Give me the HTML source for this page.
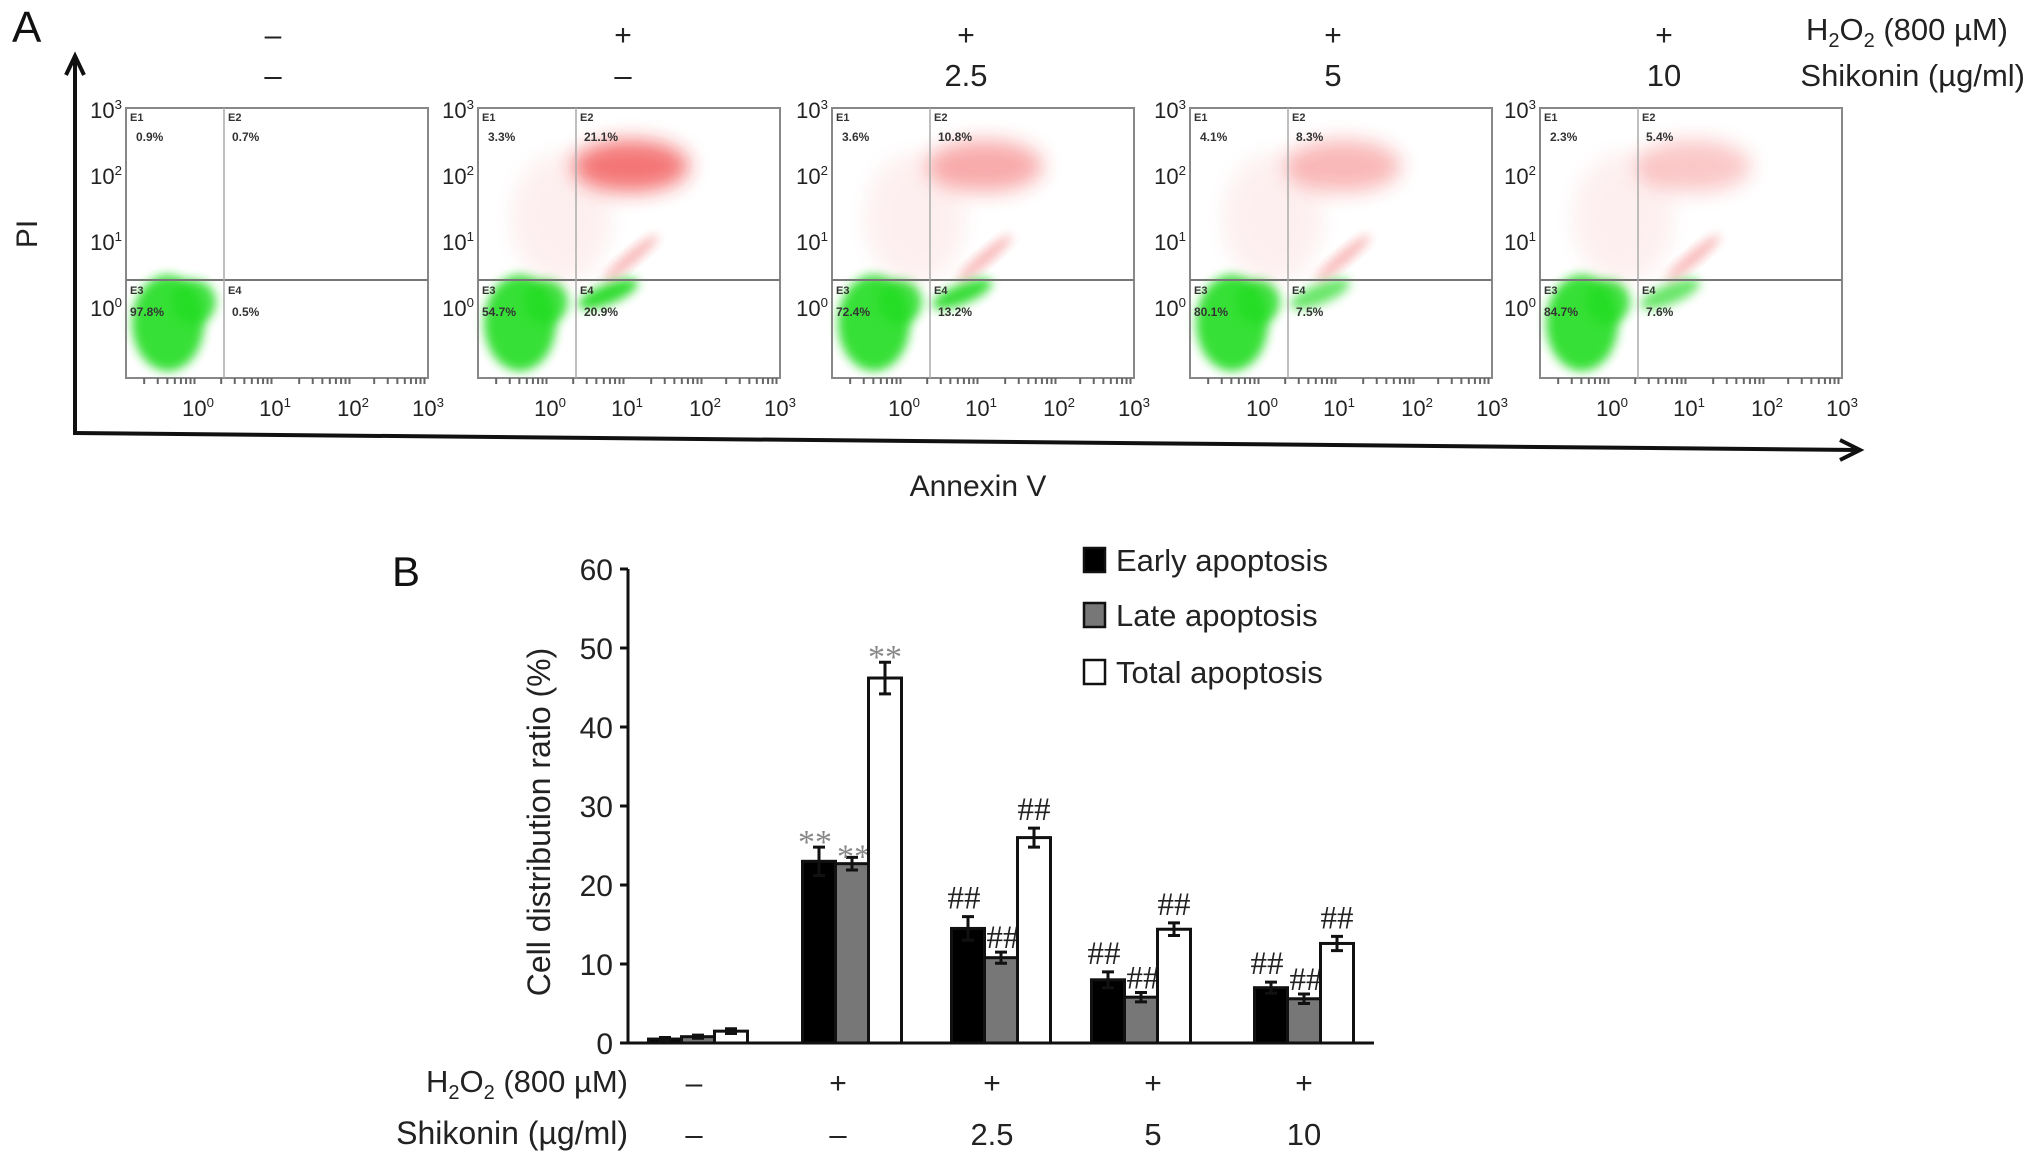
<!DOCTYPE html>
<html><head><meta charset="utf-8">
<style>
html,body{margin:0;padding:0;background:#fff;}
svg{display:block;font-family:"Liberation Sans Narrow","Liberation Sans",sans-serif;}
</style></head>
<body>
<svg id="fig" width="2032" height="1161" viewBox="0 0 2032 1161" xmlns="http://www.w3.org/2000/svg">
<defs>
<filter id="blur4" x="-50%" y="-50%" width="200%" height="200%"><feGaussianBlur stdDeviation="5"/></filter>
<filter id="blur8" x="-50%" y="-50%" width="200%" height="200%"><feGaussianBlur stdDeviation="10"/></filter>
</defs>
<g id="panelA"></g>
<g id="panelB"></g>
</svg>
<script>
const NS="http://www.w3.org/2000/svg";
// ---- Panel A data ----
const aH2O2=["–","+","+","+","+"];
const aShik=["–","–","2.5","5","10"];
const qE1=["0.9%","3.3%","3.6%","4.1%","2.3%"];
const qE2=["0.7%","21.1%","10.8%","8.3%","5.4%"];
const qE3=["97.8%","54.7%","72.4%","80.1%","84.7%"];
const qE4=["0.5%","20.9%","13.2%","7.5%","7.6%"];
const lateVals=[0.7,21.1,10.8,8.3,5.4];
// ---- Panel B data ----
const groupsH2O2=["–","+","+","+","+"];
const groupsShik=["–","–","2.5","5","10"];
const earlyVals=[0.5,23.0,14.5,8.0,7.0];
const earlyErr=[0.2,1.8,1.5,1.0,0.7];
const lateApVals=[0.8,22.7,10.8,5.8,5.6];
const lateApErr=[0.2,0.8,0.7,0.6,0.6];
const totalVals=[1.5,46.2,26.0,14.4,12.6];
const totalErr=[0.3,2.0,1.2,0.8,0.9];
const yTicks=[0,10,20,30,40,50,60];
const earlyMark=["","**","##","##","##"];
const lateMark=["","**","##","##","##"];
const totalMark=["","**","##","##","##"];

function el(parent,tag,attrs,text){const e=document.createElementNS(NS,tag);for(const k in attrs)e.setAttribute(k,attrs[k]);if(text!==undefined)e.textContent=text;parent.appendChild(e);return e;}
function sup(parent,x,y,base,exp,size,name){
  const t=el(parent,"text",{x:x,y:y,"font-size":size,"text-anchor":"middle",fill:"#222"});
  
  
  const a=document.createElementNS(NS,"tspan");a.textContent=base;t.appendChild(a);
  const b=document.createElementNS(NS,"tspan");b.setAttribute("dy",-size*0.4);b.setAttribute("font-size",size*0.6);b.textContent=exp;t.appendChild(b);
  return t;
}
const A=document.getElementById("panelA");
let t;
t=el(A,"text",{x:12,y:42,"font-size":44,fill:"#111"},"A");

let p=el(A,"path",{d:"M75 433 L75 58 M66 75 L75 56 L84 75",stroke:"#111","stroke-width":4,fill:"none"});

p=el(A,"path",{d:"M73 433 L1858 450 M1840 440 L1860 450 L1840 460",stroke:"#111","stroke-width":4,fill:"none"});

t=el(A,"text",{x:0,y:0,"font-size":30,fill:"#222","text-anchor":"middle",transform:"translate(37,234) rotate(-90)"},"PI");

t=el(A,"text",{x:978,y:496,"font-size":30,fill:"#222","text-anchor":"middle"},"Annexin V");

const hdrX=[273,623,966,1333,1664];
for(let i=0;i<5;i++){
  t=el(A,"text",{x:hdrX[i],y:45,"font-size":30,fill:"#222","text-anchor":"middle"},aH2O2[i]);
  
  t=el(A,"text",{x:hdrX[i],y:86,"font-size":31,fill:"#222","text-anchor":"middle"},aShik[i]);
  
}
t=el(A,"text",{x:2008,y:40,"font-size":31,fill:"#222","text-anchor":"end"});

t.innerHTML='H<tspan dy="7" font-size="20">2</tspan><tspan dy="-7">O</tspan><tspan dy="7" font-size="20">2</tspan><tspan dy="-7"> (800 µM)</tspan>';
t=el(A,"text",{x:2025,y:86,"font-size":31,fill:"#222","text-anchor":"end"},"Shikonin (µg/ml)");

const plotL=[126,478,832,1190,1540];
const PW=302,PT=108,PB=378,PH=280,VO=98;
for(let i=0;i<5;i++){
  const L=plotL[i];const g=el(A,"g",{});
  
  const V=L+VO;
  let e=el(g,"ellipse",{cx:L+42,cy:PB-55,rx:36,ry:48,fill:"#22dd22",opacity:0.9,filter:"url(#blur4)"});
  
  e=el(g,"ellipse",{cx:L+68,cy:PH+22,rx:22,ry:22,fill:"#22dd22",opacity:0.85,filter:"url(#blur4)"});
  
  const w=Math.min(1,qE4[i].replace('%','')/14);
  if(i>0){
    e=el(g,"ellipse",{cx:V+32,cy:PH+14,rx:32,ry:10,fill:"#33dd33",opacity:0.4+0.6*w,filter:"url(#blur4)",transform:`rotate(-22 ${V+32} ${PH+14})`});
    
    const r=lateVals[i]/21.1;
    e=el(g,"ellipse",{cx:V+55,cy:PT+58,rx:58,ry:26,fill:"#ee2222",opacity:0.12+0.5*r,filter:"url(#blur8)"});
    
    e=el(g,"ellipse",{cx:V-15,cy:PT+110,rx:50,ry:65,fill:"#ee4444",opacity:0.08,filter:"url(#blur8)"});
    
    e=el(g,"ellipse",{cx:V+55,cy:PH-22,rx:35,ry:6,fill:"#ee3333",opacity:0.35,filter:"url(#blur4)",transform:`rotate(-40 ${V+55} ${PH-22})`});
    
  }
  let r=el(g,"rect",{x:L,y:PT,width:PW,height:PB-PT,fill:"none",stroke:"#888","stroke-width":2});
  
  let l=el(g,"line",{x1:L,y1:PH,x2:L+PW,y2:PH,stroke:"#777","stroke-width":2});
  
  l=el(g,"line",{x1:V,y1:PT,x2:V,y2:PB,stroke:"#aaa","stroke-width":1.5});
  
  const labs=[["E1",L+4,PT+13,qE1[i],L+10,PT+33],["E2",V+4,PT+13,qE2[i],V+8,PT+33],["E3",L+4,PH+14,qE3[i],L+4,PH+36],["E4",V+4,PH+14,qE4[i],V+8,PH+36]];
  for(const q of labs){
    t=el(g,"text",{x:q[1],y:q[2],"font-size":11,"font-weight":"bold",fill:"#333"},q[0]);
    
    t=el(g,"text",{x:q[4],y:q[5],"font-size":12,"font-weight":"bold",fill:"#333"},q[3]);
    
  }
  const yt=[110,176,242,308];
  for(let k=0;k<4;k++){
    sup(g,L-20,yt[k]+8,"10",String(3-k),22,'y-tick-label');
  }
  const xt=[72,149,227,302];
  for(let k=0;k<4;k++){
    sup(g,L+xt[k],PB+38,"10",String(k),22,'x-tick-label');
    for(let m=1;m<9;m++){
      const tx=L+xt[k]-77+77*Math.log10(m+1);
      if(tx>L){let tk=el(g,"line",{x1:tx,y1:PB,x2:tx,y2:PB+(m==9?9:6),stroke:"#666","stroke-width":2});}
    }
  }
}
// ---- Panel B ----
const B=document.getElementById("panelB");
const X0=628,Y0=1043,XR=1374,pxPer=79/10;
const ys=v=>Y0-v*pxPer;
const gx=[698,852,1001,1141,1304];
const BW=33;
t=el(B,"text",{x:392,y:586,"font-size":42,fill:"#111"},"B");

let ax=el(B,"path",{d:`M${X0} ${ys(60)} L${X0} ${Y0} L${XR} ${Y0}`,stroke:"#111","stroke-width":3,fill:"none"});

for(const v of yTicks){
  let tk=el(B,"line",{x1:X0-8,y1:ys(v),x2:X0,y2:ys(v),stroke:"#111","stroke-width":3});
  
  t=el(B,"text",{x:X0-15,y:ys(v)+11,"font-size":30,fill:"#222","text-anchor":"end"},String(v));
  
}
t=el(B,"text",{x:0,y:0,"font-size":32,fill:"#222","text-anchor":"middle",transform:"translate(550,822) rotate(-90)"},"Cell distribution ratio (%)");

const series=[[earlyVals,earlyErr,"#000",earlyMark,"early"],[lateApVals,lateApErr,"#777",lateMark,"late"],[totalVals,totalErr,"#fff",totalMark,"total"]];
for(let i=0;i<5;i++){
  for(let s=0;s<3;s++){
    const [vals,errs,col,marks,nm]=series[s];
    const cx=gx[i]+(s-1)*BW;
    const b=el(B,"rect",{x:cx-BW/2,y:ys(vals[i]),width:BW,height:Y0-ys(vals[i]),fill:col,stroke:"#111","stroke-width":3});
    
    const e=el(B,"path",{d:`M${cx} ${ys(vals[i]-errs[i])} L${cx} ${ys(vals[i]+errs[i])} M${cx-6} ${ys(vals[i]-errs[i])} L${cx+6} ${ys(vals[i]-errs[i])} M${cx-6} ${ys(vals[i]+errs[i])} L${cx+6} ${ys(vals[i]+errs[i])}`,stroke:"#111","stroke-width":3,fill:"none"});
    
    if(marks[i]){
      const isStar=marks[i]=="**";
      const off=(s==1)?-4:-8;
      const mx=cx+(s==0?-4:(s==1?2:0));
      t=el(B,"text",{x:mx,y:ys(vals[i]+errs[i])+off+(isStar?14:0),"font-size":isStar?34:33,fill:isStar?"#888":"#222","text-anchor":"middle","font-family":"Liberation Serif, serif"},marks[i]);
      
    }
  }
}
const legNames=["Early apoptosis","Late apoptosis","Total apoptosis"];
const legCols=["#000","#777","#fff"];
const legY=[560,615,672];
for(let k=0;k<3;k++){
  const r=el(B,"rect",{x:1084,y:legY[k]-12,width:21,height:24,fill:legCols[k],stroke:"#111","stroke-width":2.5});
  
  t=el(B,"text",{x:1116,y:legY[k]+11,"font-size":31,fill:"#222"},legNames[k]);
  
}
const bx=[694,838,992,1153,1304];
for(let i=0;i<5;i++){
  t=el(B,"text",{x:bx[i],y:1093,"font-size":30,fill:"#222","text-anchor":"middle"},groupsH2O2[i]);
  
  t=el(B,"text",{x:bx[i],y:1145,"font-size":31,fill:"#222","text-anchor":"middle"},groupsShik[i]);
  
}
t=el(B,"text",{x:628,y:1092,"font-size":31,fill:"#222","text-anchor":"end"});

t.innerHTML='H<tspan dy="7" font-size="20">2</tspan><tspan dy="-7">O</tspan><tspan dy="7" font-size="20">2</tspan><tspan dy="-7"> (800 µM)</tspan>';
t=el(B,"text",{x:628,y:1144,"font-size":32,fill:"#222","text-anchor":"end"},"Shikonin (µg/ml)");

</script>
</body></html>
